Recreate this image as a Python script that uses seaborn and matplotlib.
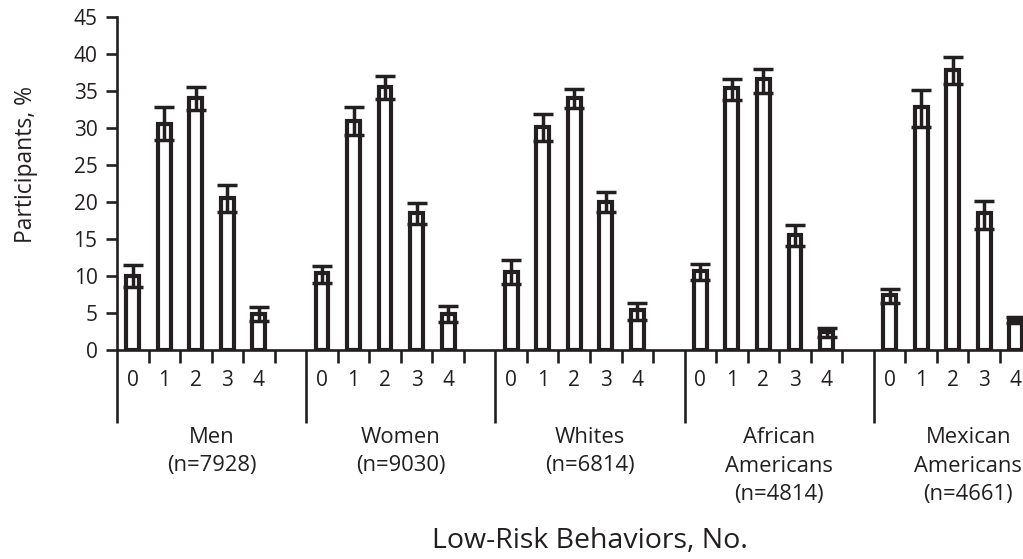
import numpy as np
import pandas as pd
import matplotlib
matplotlib.use("Agg")
import matplotlib.pyplot as plt
import seaborn as sns

# Values
groups = ["Men", "Women", "Whites", "African\nAmericans", "Mexican\nAmericans"]
group_n = ["(n=7928)", "(n=9030)", "(n=6814)", "(n=4814)", "(n=4661)"]
behaviors = ["0", "1", "2", "3", "4"]

pct = [
    [10.0, 30.6, 34.1, 20.5, 4.9],   # Men
    [10.4, 30.9, 35.5, 18.5, 4.9],   # Women
    [10.6, 30.2, 34.1, 20.0, 5.4],   # Whites
    [10.7, 35.4, 36.6, 15.5, 2.5],   # African Americans
    [7.4, 32.8, 37.8, 18.5, 4.0],    # Mexican Americans
]
ci_low = [
    [8.5, 28.4, 32.4, 18.7, 3.9],
    [9.0, 29.0, 33.9, 17.0, 3.8],
    [8.9, 28.2, 32.7, 18.6, 4.1],
    [9.5, 33.8, 34.7, 14.0, 1.7],
    [6.3, 30.2, 35.9, 16.3, 3.6],
]
ci_high = [
    [11.5, 32.8, 35.6, 22.3, 5.8],
    [11.4, 32.8, 37.0, 19.9, 5.9],
    [12.2, 31.9, 35.3, 21.3, 6.4],
    [11.6, 36.6, 38.0, 16.9, 3.0],
    [8.3, 35.1, 39.6, 20.2, 4.5],
]

ink = "#231f20"
slots = len(behaviors) + 1  # one empty slot after each group

rows = []
for gi, g in enumerate(groups):
    for bi, b in enumerate(behaviors):
        rows.append({
            "group": g,
            "behavior": b,
            "pos": gi * slots + bi + 0.5,
            "pct": pct[gi][bi],
            "lo": ci_low[gi][bi],
            "hi": ci_high[gi][bi],
        })
df = pd.DataFrame(rows)

sns.set_style("ticks")
plt.rcParams["font.family"] = ["Open Sans", "DejaVu Sans"]
plt.rcParams["text.color"] = ink
plt.rcParams["axes.edgecolor"] = ink
plt.rcParams["xtick.color"] = ink
plt.rcParams["ytick.color"] = ink

fig = plt.figure(figsize=(10.23, 5.59), dpi=100)
ax = fig.add_axes([117 / 1023, 209 / 559, 946 / 1023, 333 / 559])

sns.barplot(data=df, x="pos", y="pct", native_scale=True, width=0.41,
            color="white", edgecolor=ink, linewidth=3.0, errorbar=None,
            saturation=1, ax=ax, zorder=2)
ax.errorbar(df["pos"], df["pct"], yerr=[df["pct"] - df["lo"], df["hi"] - df["pct"]],
            fmt="none", ecolor=ink, elinewidth=2.5, capsize=7.5, capthick=2.5, zorder=3)

n_groups = len(groups)
ax.set_xlim(0, n_groups * slots)
ax.set_ylim(0, 45)
ax.set_yticks(np.arange(0, 46, 5))
ax.tick_params(axis="y", labelsize=15, length=8, width=1.9, pad=6)

major = [gi * slots for gi in range(n_groups + 1)]
minor = [gi * slots + k for gi in range(n_groups) for k in range(1, slots)]
ax.set_xticks(major)
ax.set_xticks(minor, minor=True)
ax.set_xticklabels([])
ax.tick_params(axis="x", which="major", length=52.5, width=1.9)
ax.tick_params(axis="x", which="minor", length=9.5, width=1.9)
ax.set_xlabel("")
ax.set_ylabel("")

for side in ["top", "right"]:
    ax.spines[side].set_visible(False)
for side in ["left", "bottom"]:
    ax.spines[side].set_linewidth(1.9)

trans = ax.get_xaxis_transform()
px = 1 / 333  # one pixel in axes-fraction units (vertical)
for gi in range(n_groups):
    for bi, b in enumerate(behaviors):
        ax.text(gi * slots + bi + 0.5, -30 * px, b, transform=trans,
                ha="center", va="center", fontsize=15, clip_on=False)
    lines = groups[gi].split("\n") + [group_n[gi]]
    center = gi * slots + slots / 2
    for li, line in enumerate(lines):
        ax.text(center, -(93 + 28.5 * li) * px, line, transform=trans,
                ha="center", va="baseline", fontsize=15.8)

ax.text(0.5, -198 * px, "Low-Risk Behaviors, No.", transform=ax.transAxes,
        ha="center", va="baseline", fontsize=20.5)
ax.text((31.5 - 117) / 946, 0.556, "Participants, %", transform=ax.transAxes,
        rotation=90, rotation_mode="anchor", ha="center", va="baseline",
        fontsize=16.5)

fig.savefig("out.png", dpi=100)
